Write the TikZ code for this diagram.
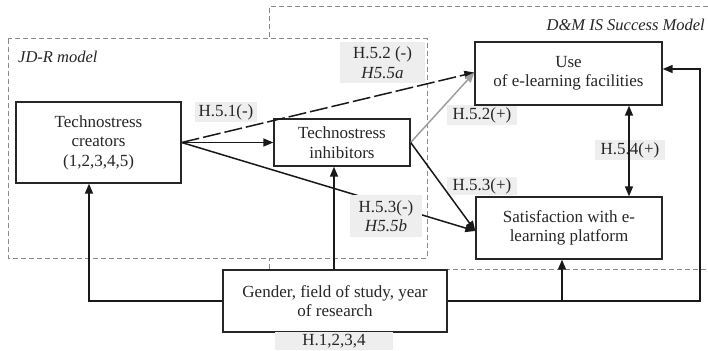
\documentclass[tikz,border=0pt]{standalone}
\usepackage{fontspec}
\setmainfont{Liberation Serif}
\usetikzlibrary{arrows.meta,calc}
\definecolor{lblgray}{HTML}{EEEEEE}
\definecolor{dashgray}{HTML}{8A8A8A}
\begin{document}
\begin{tikzpicture}[x=1pt,y=-1pt,
  every node/.style={font=\fontsize{17}{19.5}\selectfont, text=black!85},
  box/.style={draw=black!85, line width=1.3pt, fill=white, align=center, inner sep=0pt},
  lbl/.style={fill=lblgray, align=center, inner sep=0pt},
  arr/.style={line width=1.5pt, draw=black!90, -{Triangle[length=10pt,width=8pt]}},
  darr/.style={line width=1.5pt, draw=black!90, {Triangle[length=10pt,width=8pt]}-{Triangle[length=10pt,width=8pt]}},
  grp/.style={draw=dashgray, line width=1pt, dash pattern=on 5pt off 3pt},
  grplbl/.style={font=\itshape\fontsize{16.5}{19.5}\selectfont, inner sep=0pt}]
\clip (0,0) rectangle (708,350);
\fill[white] (0,0) rectangle (708,350);
% D&M IS Success Model group
\draw[grp] (269,269) -- (269,7) -- (720,7);
\draw[grp] (269,269) -- (720,269);
\node[grplbl, anchor=east] (dmlbl) at (705,25) {D\&M IS Success Model};
% JD-R group
\draw[grp, fill=white] (8,39) rectangle (427,258);
\node[grplbl, anchor=west] (jdrlbl) at (18,57) {JD-R model};
% labels below lines
\node[lbl, minimum width=62pt, minimum height=20pt] (l51) at (226,112) {H.5.1(-)};
\node[lbl, minimum width=85pt, minimum height=41pt] (l52m) at (382.5,62.5) {H.5.2 (-)\\\textit{H5.5a}};
\node[lbl, minimum width=70pt, minimum height=20pt] (l52p) at (482,115) {H.5.2(+)};
\node[lbl, minimum width=70pt, minimum height=20pt] (l54) at (630,150) {H.5.4(+)};
\node[lbl, minimum width=70pt, minimum height=18pt] (l53p) at (482,186) {H.5.3(+)};
% boxes
\node[box, minimum width=165pt, minimum height=81pt] (cre) at (98.5,142.5) {Technostress\\creators\\(1,2,3,4,5)};
\node[box, minimum width=136pt, minimum height=47pt] (inh) at (342,142.5) {Technostress\\inhibitors};
\node[box, minimum width=187pt, minimum height=63pt] (use) at (568.5,73.5) {Use\\of e-learning facilities};
\node[box, minimum width=186pt, minimum height=62pt] (sat) at (569,228) {Satisfaction with e-\\learning platform};
\node[box, minimum width=224pt, minimum height=62pt] (gen) at (335,301) {Gender, field of study, year\\of research};
% connector points
\coordinate (satIn) at ($(sat.west)+(0,3)$);
\coordinate (useIn) at ($(use.west)+(0,-1)$);
\coordinate (useR) at ($(use.east)+(0,-4.5)$);
\coordinate (rc) at (700,301);
\coordinate (br) at (562,301);
\coordinate (creB) at ($(cre.south)+(-9.5,0)$);
\coordinate (genT) at ($(gen.north)+(-1,0)$);
\coordinate (inhB) at ($(inh.south)+(-8,0)$);
\coordinate (satB) at ($(sat.south)+(-7,0)$);
\coordinate (useB) at ($(use.south)+(60.5,0)$);
\coordinate (satT) at ($(sat.north)+(60,0)$);
% connectors
\draw[arr] (cre.east) -- (inh.west);
\draw[arr, dash pattern=on 18pt off 4pt] (cre.east) -- (useIn);
\draw[arr, draw=gray!75, -{Triangle[length=10pt,width=8pt,fill=gray!75]}] (inh.east) -- (useIn);
\draw[arr] (inh.east) -- (satIn);
\draw[arr] (cre.east) -- (satIn);
\draw[darr] (useB) -- (satT);
\draw[arr] (gen.west) -| (creB);
\draw[arr] (genT) -- (inhB);
\draw[arr] (gen.east) -- (rc) |- (useR);
\draw[arr] (br) -- (satB);
% labels above lines
\node[lbl, minimum width=72pt, minimum height=42pt] (l53m) at (386,216) {H.5.3(-)\\\textit{H5.5b}};
\node[lbl, minimum width=118pt, minimum height=18pt] (l1234) at (334,341) {H.1,2,3,4};
\end{tikzpicture}
\end{document}
